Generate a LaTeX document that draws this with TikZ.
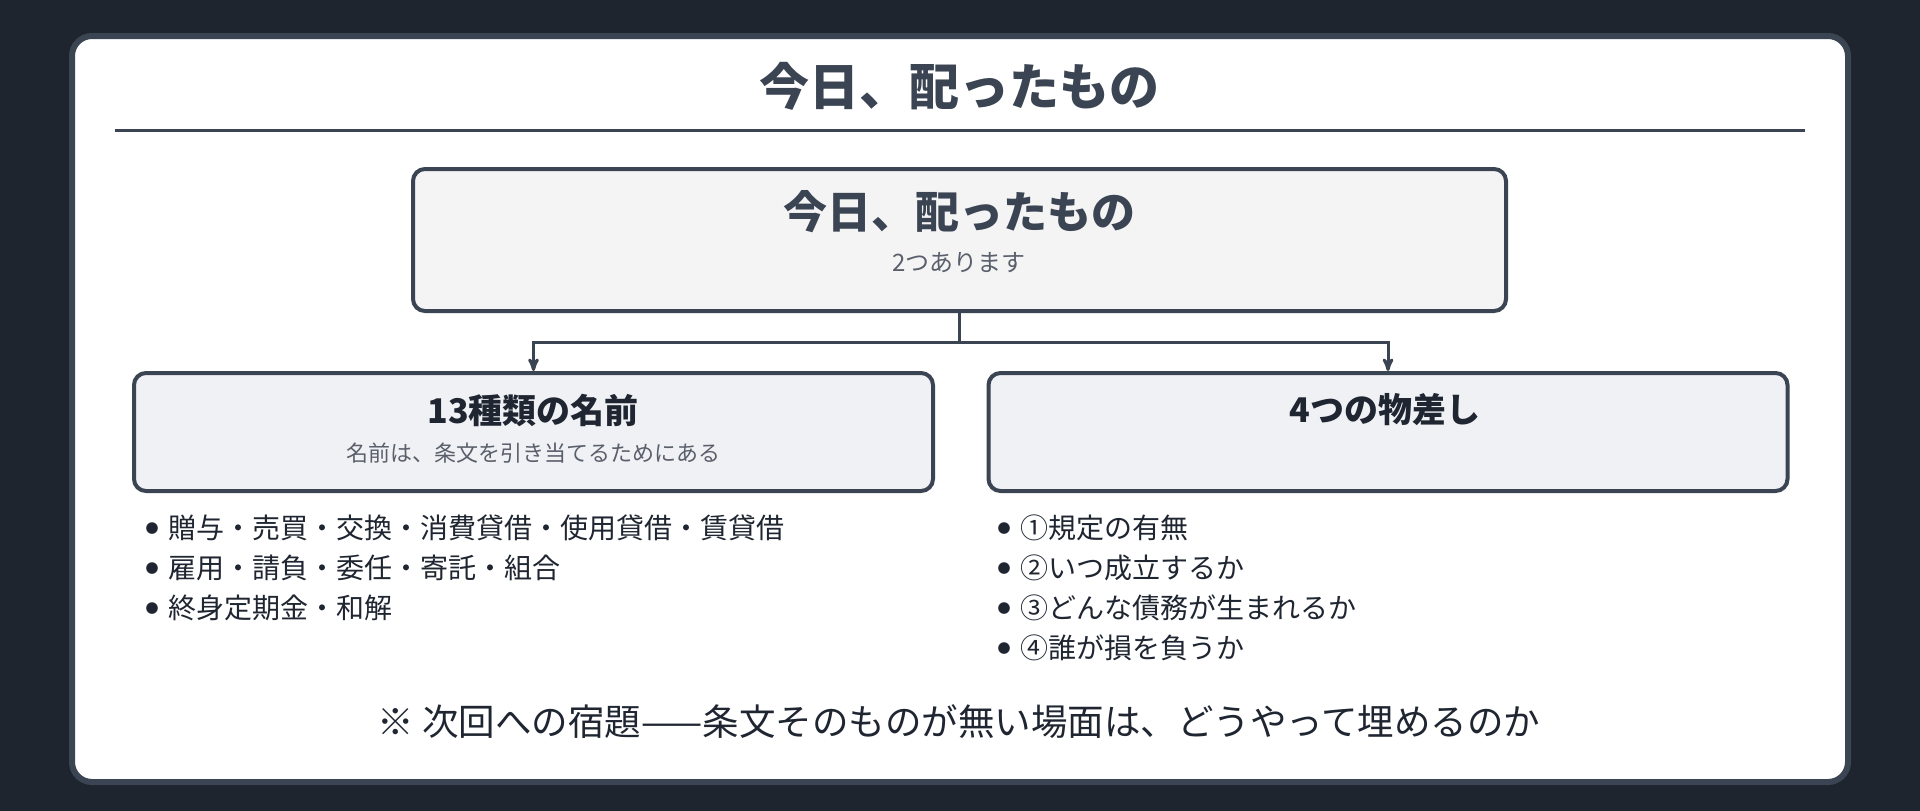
\documentclass[tikz,border=0pt]{standalone}
\usepackage{fontspec}
\newfontfamily\jp{Noto Sans CJK JP}
\usetikzlibrary{arrows,positioning}

\definecolor{bgdark}{HTML}{1F252E}
\definecolor{slate}{HTML}{3B4452}
\definecolor{ink}{HTML}{1F2631}
\definecolor{soft}{HTML}{5A606B}
\definecolor{topfill}{HTML}{F4F4F5}
\definecolor{subfill}{HTML}{F0F1F5}

% list bullet
\newcommand\blt{\raisebox{5.5pt}{\fontsize{13}{13}\selectfont●}\hspace{9.5pt}}

\tikzset{
  topbox/.style={draw=slate,fill=topfill,line width=4pt,rounded corners=12pt},
  subbox/.style={draw=slate,fill=subfill,line width=4pt,rounded corners=12pt,
                 minimum width=799pt,minimum height=118pt},
  head/.style={inner sep=0pt,text=ink,font=\jp\bfseries\fontsize{34}{40}\selectfont},
  note/.style={inner sep=0pt,text=soft,font=\jp\fontsize{22}{26}\selectfont},
  items/.style={inner sep=0pt,anchor=north west,align=left,text=ink,
                font=\jp\fontsize{28}{40}\selectfont},
  link/.style={draw=slate,line width=3pt,->}
}

\begin{document}
\begin{tikzpicture}[x=1pt,y=-1pt,>=stealth']

\fill[bgdark] (0,0) rectangle (1920,811);
\useasboundingbox (0,0) rectangle (1920,811);
\draw[slate,fill=white,line width=6pt,rounded corners=20pt] (72,36) rectangle (1848,782);

\node[inner sep=0pt,text=slate,font=\jp\bfseries\fontsize{50}{58}\selectfont] (T) at (959,86) {今日、配ったもの};
\draw[slate,line width=3pt] (115,130) -- (1805,130);

% top box
\node[topbox,minimum width=1093pt,minimum height=142pt] (0) at (959.5,240) {};
\node[inner sep=0pt,text=slate,font=\jp\bfseries\fontsize{44}{50}\selectfont] (0t) at (959,212) {今日、配ったもの};
\node[note,font=\jp\fontsize{24}{28}\selectfont] (0s) at (959,263) {2つあります};

% the two kinds
\node[subbox] (1) at (533.5,432) {};
\node[subbox] (2) at (1388,432) {};
\node[head] (1t) at (533,410) {13種類の名前};
\node[note] (1s) at (533,453) {名前は、条文を引き当てるためにある};
\node[head] (2t) at (1385,410) {4つの物差し};

\path[link] (0.south) -- ++(0,29) coordinate (J) -| (1.north);
\path[link] (J) -| (2.north);

\node[items] (1l) at (145.5,515) {\blt 贈与・売買・交換・消費貸借・使用貸借・賃貸借\\
\blt 雇用・請負・委任・寄託・組合\\
\blt 終身定期金・和解};
\node[items] (2l) at (997.5,515) {\blt ①規定の有無\\
\blt ②いつ成立するか\\
\blt ③どんな債務が生まれるか\\
\blt ④誰が損を負うか};

\node[inner sep=0pt,text=ink,font=\jp\fontsize{36.5}{42}\selectfont] (F) at (959,722) {※ 次回への宿題——条文そのものが無い場面は、どうやって埋めるのか};

\end{tikzpicture}
\end{document}
